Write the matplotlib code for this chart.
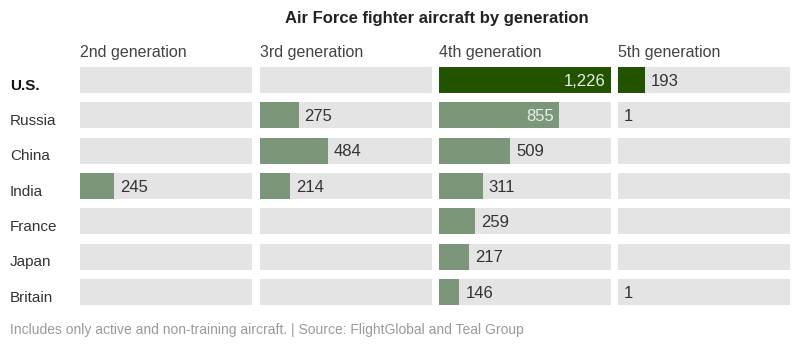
import matplotlib.pyplot as plt

# data
countries = ["U.S.", "Russia", "China", "India", "France", "Japan", "Britain"]
generations = ["2nd generation", "3rd generation", "4th generation", "5th generation"]
gen2 = [0, 0, 0, 245, 0, 0, 0]
gen3 = [0, 275, 484, 214, 0, 0, 0]
gen4 = [1226, 855, 509, 311, 259, 217, 146]
gen5 = [193, 1, 0, 0, 0, 0, 1]
values = [gen2, gen3, gen4, gen5]

plt.rcParams['font.family'] = ['Liberation Sans', 'DejaVu Sans']

W, H = 800, 347
fig = plt.figure(figsize=(8, 3.47), dpi=100)
fig.patch.set_facecolor("white")

vmax = max(max(v) for v in values)
lefts = [80, 260, 439, 618]
panel_w = 172
top, bottom = 67, 305
n = len(countries)
pitch = (bottom - top - 26) / (n - 1)
bar_h = 26 / pitch
pad = bar_h / 2

dark = "#245300"
light = "#7b9679"
gray = "#e4e4e4"
text_col = "#333333"

for gi, (gen, vals) in enumerate(zip(generations, values)):
    ax = fig.add_axes([lefts[gi] / W, 1 - bottom / H, panel_w / W, (bottom - top) / H])
    ax.set_xlim(0, vmax)
    ax.set_ylim(n - 1 + pad, -pad)
    ax.axis("off")
    ys = list(range(n))
    ax.barh(ys, [vmax] * n, height=bar_h, color=gray, linewidth=0)
    for y, v in zip(ys, vals):
        if v <= 0:
            continue
        col = dark if countries[y] == "U.S." else light
        ax.barh(y, v, height=bar_h, color=col, linewidth=0)
        if v > vmax * 0.6:
            ax.text(v - vmax * 0.03, y + 0.03, f"{v:,}", ha="right", va="center",
                    fontsize=12, color="#e8efe4")
        else:
            ax.text(v + vmax * 0.035, y + 0.03, f"{v:,}", ha="left", va="center",
                    fontsize=12, color=text_col)
    fig.text(lefts[gi] / W, 1 - 53 / H, gen, ha="left", va="center",
             fontsize=11.5, color="#444444")

# country labels
for i, c in enumerate(countries):
    yc = top + 13 + i * pitch
    fig.text(10 / W, 1 - (yc + 5.5) / H, c, ha="left", va="center", fontsize=11,
             color="#111111" if c == "U.S." else text_col,
             fontweight="bold" if c == "U.S." else "normal")

fig.text(437 / W, 1 - 19 / H, "Air Force fighter aircraft by generation",
         ha="center", va="center", fontsize=12, fontweight="bold", color="#222222")
fig.text(10 / W, 1 - 330 / H,
         "Includes only active and non-training aircraft. | Source: FlightGlobal and Teal Group",
         ha="left", va="center", fontsize=10, color="#9a9a9a")

fig.savefig("out.png", dpi=100)
